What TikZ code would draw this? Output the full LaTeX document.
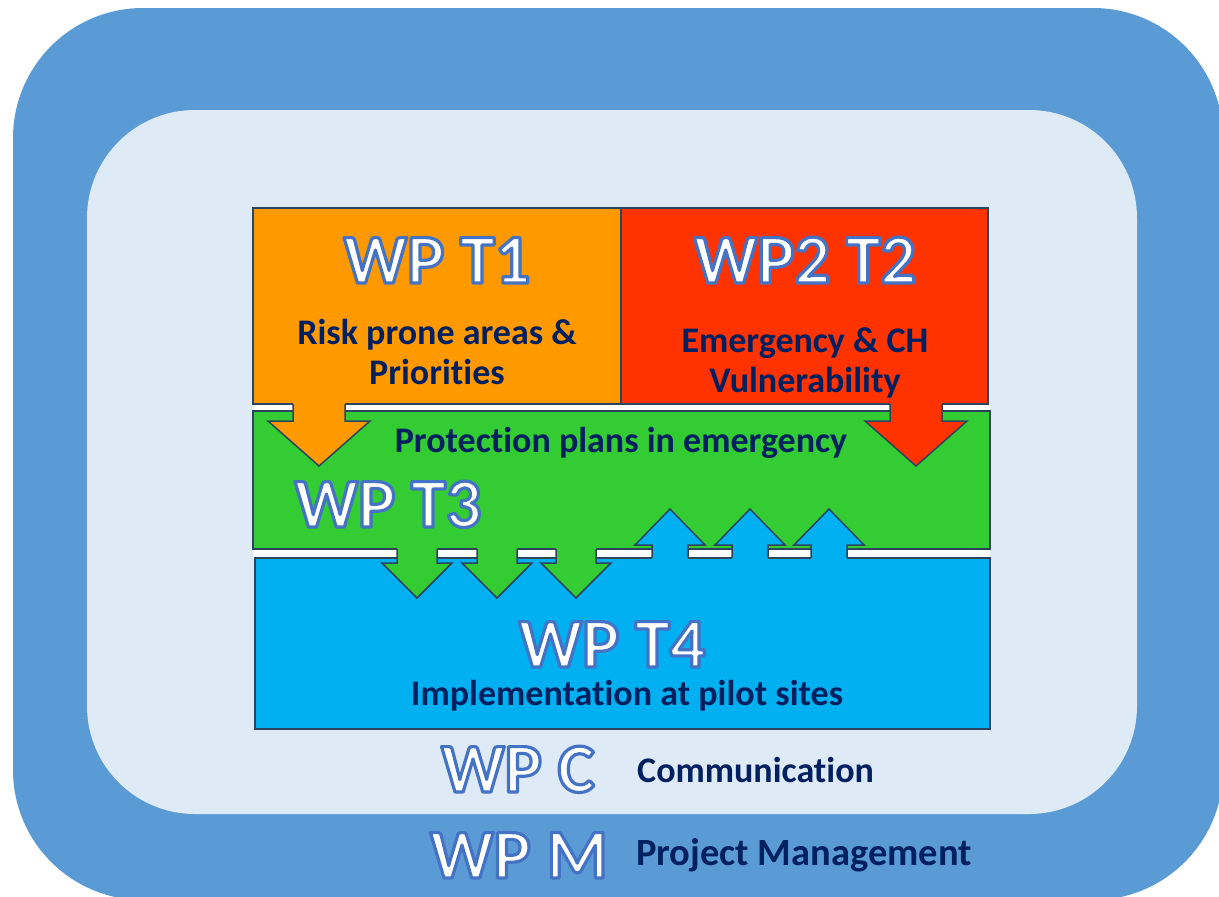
\documentclass[tikz,border=0pt]{standalone}
\usepackage{fontspec}
\setmainfont{Carlito}[Ligatures=NoCommon]

\definecolor{outerblue}{RGB}{91,155,213}
\definecolor{innerbg}{RGB}{222,234,246}
\definecolor{t1orange}{RGB}{255,153,0}
\definecolor{t2red}{RGB}{255,51,0}
\definecolor{t3green}{RGB}{51,204,51}
\definecolor{t4blue}{RGB}{0,176,240}
\definecolor{boxline}{RGB}{44,68,94}
\definecolor{textnavy}{RGB}{0,32,96}

\tikzset{
  wpbox/.style={draw=boxline, line width=1.5pt},
  arrowline/.style={draw=boxline, line width=1.5pt, line join=miter},
  wptitle/.style={inner sep=0pt, anchor=base, text=white,
    font=\fontsize{70}{84}\selectfont\bfseries},
  wplabel/.style={inner sep=0pt, text=textnavy, align=center,
    font=\fontsize{36}{40}\selectfont\bfseries},
}
% white letters with a blue outline (fill, then stroke)
\newcommand{\glowtext}[1]{%
  \special{pdf:literal direct 0.267 0.447 0.769 RG 3.2 w 1 j 2 Tr}%
  #1%
  \special{pdf:literal direct 0 Tr 0 j}}

\begin{document}
\begin{tikzpicture}[x=1pt,y=-1pt]
    % Canvas
    \useasboundingbox (0,0) rectangle (1219,897);

    % Frames: WP M (outer) and WP C (inner)
    \fill[outerblue, rounded corners=130pt] (13,8) rectangle (1223,900);
    \fill[innerbg, rounded corners=108pt] (87,110) rectangle (1137,814);

    % Gaps between the boxes
    \fill[white] (253,404) rectangle (990,411);
    \fill[white] (253,549) rectangle (990,558);

    % Work package boxes
    \filldraw[wpbox, fill=t1orange] (253,208) rectangle (621,404);
    \filldraw[wpbox, fill=t2red] (621,208) rectangle (988,404);
    \filldraw[wpbox, fill=t3green] (253,411) rectangle (990,549);
    \filldraw[wpbox, fill=t4blue] (255,558) rectangle (990,729);

    % Arrows T1 and T2 into T3
    \foreach \c/\col in {319/t1orange, 916/t2red} {
        \fill[\col] (\c-26,401) -- (\c-26,421) -- (\c-51,421) -- (\c,466)
            -- (\c+51,421) -- (\c+26,421) -- (\c+26,401) -- cycle;
        \draw[arrowline] (\c-26,404) -- (\c-26,421) -- (\c-51,421) -- (\c,466)
            -- (\c+51,421) -- (\c+26,421) -- (\c+26,404);
    }

    % Arrows T3 into T4
    \foreach \c in {417,497,576} {
        \fill[t3green] (\c-20,546) -- (\c-20,563) -- (\c-35,563) -- (\c,598)
            -- (\c+35,563) -- (\c+20,563) -- (\c+20,546) -- cycle;
        \draw[arrowline] (\c-20,549) -- (\c-20,563) -- (\c-35,563) -- (\c,598)
            -- (\c+35,563) -- (\c+20,563) -- (\c+20,549);
    }

    % Arrows T4 back into T3
    \foreach \c in {670,750,829} {
        \fill[t4blue] (\c-18,561) -- (\c-18,545) -- (\c-35,545) -- (\c,509)
            -- (\c+35,545) -- (\c+18,545) -- (\c+18,561) -- cycle;
        \draw[arrowline] (\c-18,558) -- (\c-18,545) -- (\c-35,545) -- (\c,509)
            -- (\c+35,545) -- (\c+18,545) -- (\c+18,558);
    }

    % Titles
    \node[wptitle] (t1title) at (437,283) {\glowtext{WP T1}};
    \node[wptitle] (t2title) at (805,283) {\glowtext{WP2 T2}};
    \node[wptitle] (t3title) at (388,527) {\glowtext{WP T3}};
    \node[wptitle] (t4title) at (612,667) {\glowtext{WP T4}};
    \node[wptitle] (wpc) at (518,792) {\glowtext{WP C}};
    \node[wptitle] (wpm) at (519,878) {\glowtext{WP M}};

    % Descriptions
    \node[wplabel] (t1text) at (437,352) {Risk prone areas \&\\Priorities};
    \node[wplabel] (t2text) at (805,363) {Emergency \& CH\\Vulnerability};
    \node[wplabel] (t3text) at (621,443) {Protection plans in emergency};
    \node[wplabel] (t4text) at (627,696) {Implementation at pilot sites};
    \node[wplabel, anchor=west] (wpctext) at (637,770) {Communication};
    \node[wplabel, anchor=west, font=\fontsize{38.5}{42}\selectfont\bfseries]
        (wpmtext) at (636,855) {Project Management};
\end{tikzpicture}
\end{document}
